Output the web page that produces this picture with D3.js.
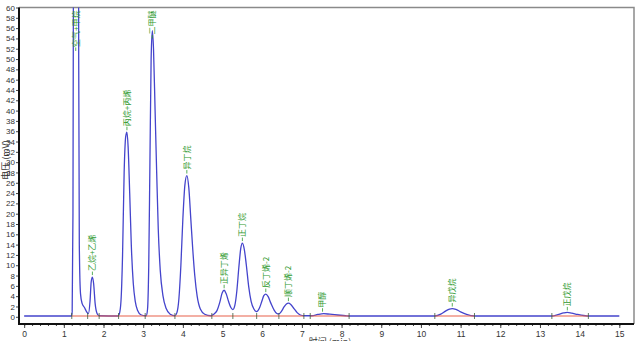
<!DOCTYPE html>
<html>
<head>
<meta charset="utf-8">
<script src="https://cdn.jsdelivr.net/npm/d3@7"></script>
<style>
body { margin: 0; background: #fff; }
svg { display: block; font-family: "Liberation Sans", "DejaVu Sans", sans-serif; }
.peak-label { font-family: "Noto Sans CJK SC", sans-serif; font-size: 8px; fill: #2f9a2f; }
</style>
</head>
<body>
<script>
// chromatogram trace (time in min, signal in mV)
var traceTime = [0, 1.19, 1.21, 1.23, 1.24, 1.25, 1.37, 1.375, 1.39, 1.42, 1.46, 1.52, 1.58, 1.62, 1.66, 1.69, 1.72, 1.75, 1.79, 1.84, 1.89,
	2.36, 2.40, 2.44, 2.48, 2.52, 2.56, 2.59, 2.62, 2.66, 2.70, 2.75, 2.80, 2.86, 2.94, 3.05,
	3.08, 3.11, 3.14, 3.17, 3.20, 3.23, 3.26, 3.30, 3.34, 3.38, 3.43, 3.50, 3.58, 3.68, 3.80,
	3.85, 3.90, 3.95, 4.00, 4.05, 4.10, 4.15, 4.20, 4.25, 4.30, 4.36, 4.44, 4.55, 4.70,
	4.78, 4.86, 4.93, 4.99, 5.04, 5.09, 5.15, 5.21, 5.26,
	5.31, 5.36, 5.41, 5.46, 5.50, 5.55, 5.60, 5.66, 5.72, 5.79, 5.86,
	5.93, 5.99, 6.04, 6.09, 6.15, 6.22, 6.30, 6.36, 6.42,
	6.48, 6.55, 6.61, 6.66, 6.72, 6.80, 6.88, 6.96, 7.05,
	7.25, 7.40, 7.55, 7.70, 7.90, 8.10, 8.20,
	10.35, 10.50, 10.62, 10.72, 10.79, 10.88, 11.00, 11.15, 11.35,
	13.30, 13.45, 13.60, 13.69, 13.80, 13.95, 14.10, 14.25, 15.0];
var traceMv = [0.15, 0.15, 1.0, 20, 60, 70, 70, 50, 14, 4.5, 2.6, 1.8, 0.9, 0.6, 3, 6.8, 7.7, 6.5, 2.5, 0.6, 0.2,
	0.15, 0.6, 3, 12, 28, 35, 35.8, 33, 24, 14, 6.5, 3, 1.2, 0.4, 0.2,
	0.2, 1.5, 10, 30, 50, 55.5, 52, 40, 28, 17, 9, 4, 1.6, 0.5, 0.2,
	0.8, 3.5, 10, 19, 25.5, 27.4, 25, 19, 13, 8, 4, 1.5, 0.5, 0.2,
	0.5, 1.2, 2.8, 4.6, 5.15, 4.5, 3, 1.8, 1.4,
	2.2, 5, 9.5, 13.3, 14.3, 13, 10, 5.8, 3, 1.5, 1.0,
	1.7, 3, 4.1, 4.4, 3.9, 2.6, 1.3, 0.7, 0.55,
	1.0, 1.9, 2.5, 2.65, 2.4, 1.6, 0.8, 0.35, 0.2,
	0.2, 0.45, 0.6, 0.5, 0.35, 0.2, 0.15,
	0.15, 0.5, 1.1, 1.5, 1.6, 1.45, 0.95, 0.45, 0.15,
	0.15, 0.4, 0.75, 0.85, 0.7, 0.45, 0.25, 0.15, 0.15];

// peak names, apex times and apex heights (first peak is off scale)
var peakNames = ["空气+甲烷", "乙烷+乙烯", "丙烷+丙烯", "二甲醚", "异丁烷", "正异丁烯", "正丁烷", "反丁烯-2", "顺丁烯-2", "甲醇", "异戊烷", "正戊烷"];
var peakTimes = [1.30, 1.72, 2.59, 3.23, 4.10, 5.04, 5.50, 6.09, 6.66, 7.52, 10.79, 13.69];
var peakHeights = [70, 7.7, 35.8, 55.5, 27.4, 5.15, 14.3, 4.4, 2.65, 0.6, 1.6, 0.85];

// integration baselines and their boundary marks
var baseStarts = [1.20, 7.21, 10.35, 13.30];
var baseEnds = [7.05, 8.19, 11.35, 14.22];
var boundaryTimes = [1.20, 1.60, 1.89, 2.38, 3.05, 3.80, 4.73, 5.26, 5.86, 6.42, 7.05, 7.21, 8.19, 10.35, 11.35, 13.30, 14.22];

var xTicks = d3.range(0, 16, 1);
var yTicks = d3.range(0, 61, 2);

var svgWidth = 643;
var svgHeight = 341;
var plot = {left: 19, right: 634, top: 7.5, bottom: 324};

var svg = d3.select("body").append("svg")
	.attr("width", svgWidth)
	.attr("height", svgHeight);

var xScale = d3.scaleLinear().domain([-0.13, 15.37]).range([plot.left, plot.right]);
var yScale = d3.scaleLinear().domain([-1.4, 60]).range([plot.bottom, plot.top]);

svg.append("clipPath").attr("id", "clip")
	.append("rect")
		.attr("x", plot.left).attr("y", plot.top)
		.attr("width", plot.right - plot.left).attr("height", plot.bottom - plot.top);

//frame top and right
svg.append("path")
	.attr("d", "M" + plot.left + "," + plot.top + "H" + plot.right + "V" + plot.bottom)
	.attr("fill", "none")
	.attr("stroke", "#8a8a8a")
	.attr("stroke-width", 1.5);

var traceData = traceTime.map(function(t, i){ return {t: t, v: traceMv[i]}; });

var line = d3.line()
	.x(function(d){ return xScale(d.t); })
	.y(function(d){ return yScale(d.v); })
	.curve(d3.curveMonotoneX);

var g = svg.append("g").attr("clip-path", "url(#clip)");

g.append("path")
	.datum(traceData)
	.attr("d", line)
	.attr("fill", "none")
	.attr("stroke", "#4444cc")
	.attr("stroke-width", 1.3);

//integration baselines
g.selectAll(".base")
	.data(baseStarts)
	.enter().append("line")
		.attr("class", "base")
		.attr("x1", function(d){ return xScale(d); })
		.attr("x2", function(d, i){ return xScale(baseEnds[i]); })
		.attr("y1", yScale(0.15))
		.attr("y2", yScale(0.15))
		.attr("stroke", "#e8604a")
		.attr("stroke-width", 1.2);

g.selectAll(".bound")
	.data(boundaryTimes)
	.enter().append("line")
		.attr("class", "bound")
		.attr("x1", function(d){ return xScale(d); })
		.attr("x2", function(d){ return xScale(d); })
		.attr("y1", yScale(0.15) - 3)
		.attr("y2", yScale(0.15) + 3)
		.attr("stroke", "#3c5a3c")
		.attr("stroke-width", 0.8);

//peak labels
var labels = svg.selectAll(".peak")
	.data(peakNames)
	.enter().append("g")
		.attr("class", "peak");

labels.each(function(name, i){
	var sel = d3.select(this);
	var px = xScale(peakTimes[i]);
	var apexY = Math.max(yScale(peakHeights[i]), plot.top);
	var txt = sel.append("text")
		.attr("class", "peak-label")
		.attr("text-anchor", "start")
		.attr("dy", "0.35em")
		.text(name);
	var len = txt.node().getComputedTextLength();
	var bottomY = Math.max(apexY - 6, plot.top + len + 3);
	txt.attr("transform", "translate(" + px + "," + bottomY + ") rotate(-90)");
	sel.append("line")
		.attr("x1", px).attr("x2", px)
		.attr("y1", bottomY + 0.5).attr("y2", bottomY + 4)
		.attr("stroke", "#2f9a2f")
		.attr("stroke-width", 0.8);
});

//axes
var xAxis = d3.axisBottom(xScale).tickValues(xTicks).tickSize(4).tickPadding(3).tickFormat(d3.format("d"));
var xMinor = d3.axisBottom(xScale).tickValues(d3.range(0, 15.01, 0.2)).tickSize(2).tickFormat("");
var yAxis = d3.axisLeft(yScale).tickValues(yTicks).tickSize(3).tickPadding(1).tickFormat(d3.format("d"));

var gx = svg.append("g")
	.attr("transform", "translate(0," + plot.bottom + ")");
gx.call(xMinor);
gx.append("g").call(xAxis);
gx.selectAll("path.domain").remove();
gx.selectAll("text").attr("font-size", 8.5).attr("fill", "#333");
gx.selectAll("line").attr("stroke", "#444");

var gy = svg.append("g")
	.attr("transform", "translate(" + plot.left + ",0)")
	.call(yAxis);
gy.select("path.domain").remove();
gy.selectAll("text").attr("font-size", 8).attr("fill", "#333");
gy.selectAll("line").attr("stroke", "#444");

//main axis lines
svg.append("path")
	.attr("d", "M" + plot.left + "," + plot.top + "V" + plot.bottom + "H" + plot.right)
	.attr("fill", "none")
	.attr("stroke", "#111")
	.attr("stroke-width", 2);

//axis titles
svg.append("text")
	.attr("x", 330)
	.attr("y", 345)
	.attr("text-anchor", "middle")
	.attr("font-family", "Noto Sans CJK SC, sans-serif")
	.attr("font-size", 9)
	.attr("fill", "#333")
	.text("时间 (min)");

svg.append("text")
	.attr("transform", "translate(6,160) rotate(-90)")
	.attr("text-anchor", "middle")
	.attr("dy", "0.35em")
	.attr("font-family", "Noto Sans CJK SC, sans-serif")
	.attr("font-size", 9)
	.attr("fill", "#333")
	.text("电压 (mV)");
</script>
</body>
</html>
